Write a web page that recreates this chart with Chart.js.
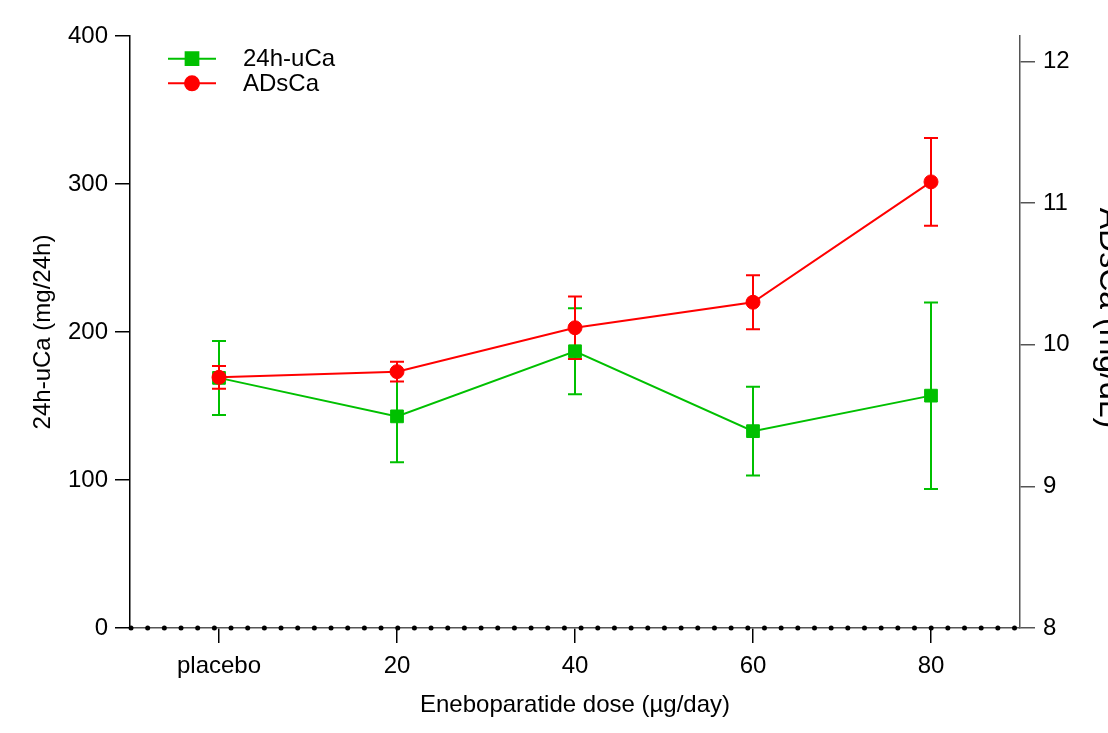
<!DOCTYPE html>
<html>
<head>
<meta charset="utf-8">
<script src="https://cdn.jsdelivr.net/npm/chart.js@4"></script>
<style>
  body { margin: 0; background: #fff; }
  #wrap { width: 1108px; height: 733px; overflow: hidden; }
</style>
</head>
<body>
<div id="wrap"><canvas id="grafico" width="1108" height="733"></canvas></div>
<script>
// datos
const doses = [0, 20, 40, 60, 80];
const doseLabels = ['placebo', '20', '40', '60', '80'];
const uCa = [169, 143, 187, 133, 157];
const uCaErr = [25, 31, 29, 30, 63];
const adsCa = [9.77, 9.81, 10.12, 10.30, 11.15];
const adsCaErr = [0.08, 0.07, 0.22, 0.19, 0.31];
const uCaTicks = [0, 100, 200, 300, 400];
const adsCaTicks = [8, 9, 10, 11, 12];

const VERDE = 'rgb(0,192,0)';
const ROJO = 'rgb(255,0,0)';
const FUENTE = "'Liberation Sans', Arial, sans-serif";

Chart.defaults.font.family = FUENTE;
Chart.defaults.font.size = 24;
Chart.defaults.color = '#000';

// barras de error, verde primero y roja encima
const barrasError = {
  id: 'barrasError',
  beforeDatasetsDraw(chart) {
    const ctx = chart.ctx;
    chart.data.datasets.forEach((ds, i) => {
      const meta = chart.getDatasetMeta(i);
      const escala = chart.scales[ds.yAxisID];
      ctx.save();
      ctx.strokeStyle = ds.borderColor;
      ctx.lineWidth = 2;
      meta.data.forEach((p, j) => {
        const v = ds.data[j].y;
        const e = ds.errores[j];
        const yArr = escala.getPixelForValue(v + e);
        const yAba = escala.getPixelForValue(v - e);
        ctx.beginPath();
        ctx.moveTo(p.x, yArr); ctx.lineTo(p.x, yAba);
        ctx.moveTo(p.x - 7, yArr); ctx.lineTo(p.x + 7, yArr);
        ctx.moveTo(p.x - 7, yAba); ctx.lineTo(p.x + 7, yAba);
        ctx.stroke();
      });
      ctx.restore();
    });
  }
};

// eje x punteado, leyenda y título derecho
const extras = {
  id: 'extras',
  afterDraw(chart) {
    const { ctx, chartArea } = chart;
    ctx.save();
    ctx.fillStyle = '#000';
    for (let x = chartArea.left + 1; x <= chartArea.right - 2; x += 16.67) {
      ctx.beginPath();
      ctx.arc(x, chartArea.bottom, 2.5, 0, Math.PI * 2);
      ctx.fill();
    }

    chart.data.datasets.forEach((ds, i) => {
      const y = chartArea.top + 22.7 + i * 24.6;
      const x0 = chartArea.left + 38;
      ctx.strokeStyle = ds.borderColor;
      ctx.fillStyle = ds.backgroundColor;
      ctx.lineWidth = 2;
      ctx.beginPath();
      ctx.moveTo(x0, y); ctx.lineTo(x0 + 48, y);
      ctx.stroke();
      Chart.helpers.drawPoint(ctx, { pointStyle: ds.pointStyle, radius: ds.pointRadius, borderWidth: 1, rotation: 0 }, x0 + 24, y);
      ctx.fillStyle = '#000';
      ctx.font = '24px ' + FUENTE;
      ctx.textBaseline = 'middle';
      ctx.textAlign = 'left';
      ctx.fillText(ds.label, x0 + 75, y + 1);
    });

    ctx.translate(1100, 318);
    ctx.rotate(Math.PI / 2);
    ctx.font = '32px ' + FUENTE;
    ctx.textAlign = 'center';
    ctx.textBaseline = 'alphabetic';
    ctx.fillStyle = '#000';
    ctx.fillText('ADsCa (mg/dL)', 0, 0);
    ctx.restore();
  }
};

new Chart(document.getElementById('grafico'), {
  type: 'line',
  data: {
    datasets: [
      {
        label: '24h-uCa',
        data: doses.map((d, i) => ({ x: d, y: uCa[i] })),
        errores: uCaErr,
        yAxisID: 'y',
        borderColor: VERDE,
        backgroundColor: VERDE,
        borderWidth: 2,
        pointStyle: 'rect',
        pointRadius: 9,
        pointBorderWidth: 1,
        order: 2
      },
      {
        label: 'ADsCa',
        data: doses.map((d, i) => ({ x: d, y: adsCa[i] })),
        errores: adsCaErr,
        yAxisID: 'y1',
        borderColor: ROJO,
        backgroundColor: ROJO,
        borderWidth: 2,
        pointStyle: 'circle',
        pointRadius: 7,
        pointBorderWidth: 1,
        order: 1
      }
    ]
  },
  options: {
    responsive: false,
    animation: false,
    layout: { padding: { top: 36, left: 0, right: 0, bottom: 0 } },
    plugins: { legend: { display: false }, tooltip: { enabled: false } },
    scales: {
      x: {
        type: 'linear',
        min: -10,
        max: 90,
        afterBuildTicks: s => { s.ticks = doses.map(v => ({ value: v })); },
        afterFit: s => { s.height = 105; },
        ticks: { padding: 9, autoSkip: false, maxRotation: 0, callback: v => doseLabels[doses.indexOf(v)] },
        grid: { drawOnChartArea: false, tickLength: 15, color: '#000', lineWidth: 1.5 },
        border: { color: '#555', width: 1.5 },
        title: { display: true, text: 'Eneboparatide dose (µg/day)', padding: { top: 0, bottom: 13 } }
      },
      y: {
        position: 'left',
        min: 0,
        max: 400,
        afterBuildTicks: s => { s.ticks = uCaTicks.map(v => ({ value: v })); },
        afterFit: s => { s.width = 130; },
        ticks: { padding: 7 },
        grid: { drawOnChartArea: false, tickLength: 15, color: '#000', lineWidth: 1.5 },
        border: { color: '#000', width: 1.5 },
        title: { display: true, text: '24h-uCa (mg/24h)', padding: { top: 29, bottom: 0 } }
      },
      y1: {
        position: 'right',
        min: 8,
        max: 12.18,
        afterBuildTicks: s => { s.ticks = adsCaTicks.map(v => ({ value: v })); },
        afterFit: s => { s.width = 88; },
        ticks: { padding: 8 },
        grid: { drawOnChartArea: false, tickLength: 15, color: '#555', lineWidth: 1.5 },
        border: { color: '#555', width: 1.5 }
      }
    }
  },
  plugins: [barrasError, extras]
});
</script>
</body>
</html>
